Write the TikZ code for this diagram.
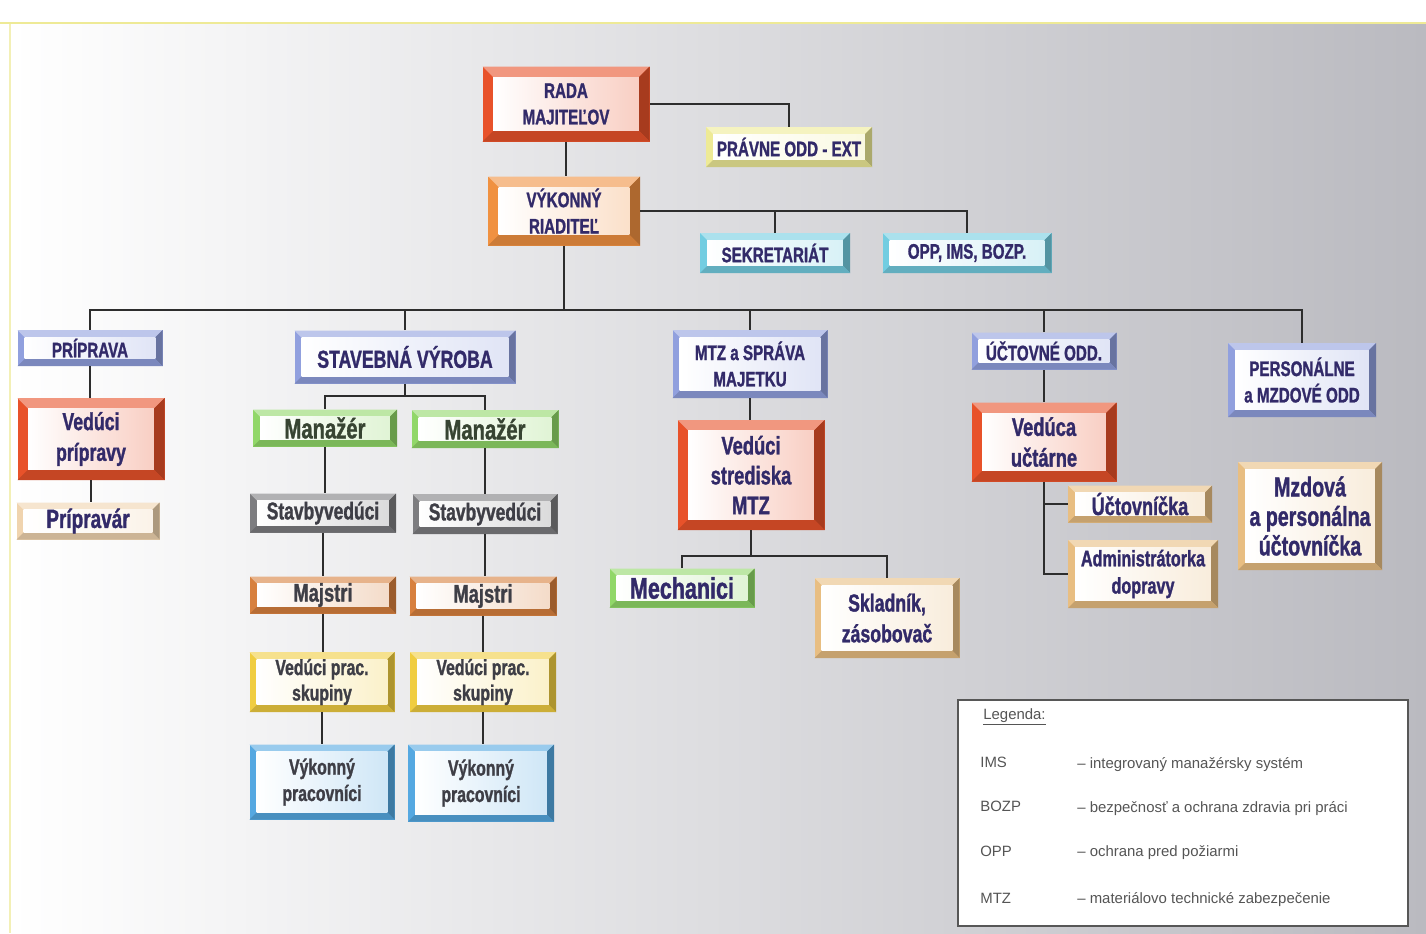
\documentclass[tikz,border=0pt]{standalone}
\usepackage{fontspec}
\setmainfont{Liberation Sans}
\newfontfamily\boxfont[FakeStretch=0.72, FakeBold=1.2, UprightFont={* Bold}, BoldFont={* Bold}]{Liberation Sans}
\definecolor{cRed}{RGB}{232,82,42}
\definecolor{cOrange}{RGB}{240,145,65}
\definecolor{cYel}{RGB}{238,234,150}
\definecolor{cCyan}{RGB}{115,205,225}
\definecolor{cBlue}{RGB}{145,160,222}
\definecolor{cGreen}{RGB}{145,215,105}
\definecolor{cGrey}{RGB}{125,125,128}
\definecolor{cBrown}{RGB}{215,128,62}
\definecolor{cGold}{RGB}{240,205,65}
\definecolor{cSky}{RGB}{85,168,225}
\definecolor{cPeach}{RGB}{232,190,130}
\definecolor{cPeachL}{RGB}{240,212,175}
\definecolor{txtA}{RGB}{50,42,105}
\definecolor{txtB}{RGB}{62,62,70}
\definecolor{txtG}{RGB}{55,68,50}
\definecolor{lineC}{RGB}{45,45,45}
\definecolor{legT}{RGB}{85,85,85}
\def\bw{4pt}
\tikzset{
  sz/.style 2 args={minimum width=#1*0.02cm, minimum height=#2*0.02cm},
  fs/.style 2 args={font=\boxfont\fontsize{#1}{#2}\selectfont},
  thickframe/.code={\def\bw{6pt}},
  box/.style={rectangle, inner sep=0pt, align=center, fill=#1, text=txtA,
    font=\boxfont\fontsize{12}{15}\selectfont,
    path picture={
      \fill[#1!60!white] (path picture bounding box.north west) -- (path picture bounding box.north east)
        -- ([shift={(-\bw,-\bw)}]path picture bounding box.north east) -- ([shift={(\bw,-\bw)}]path picture bounding box.north west) -- cycle;
      \fill[#1!72!black] (path picture bounding box.north east) -- (path picture bounding box.south east)
        -- ([shift={(-\bw,\bw)}]path picture bounding box.south east) -- ([shift={(-\bw,-\bw)}]path picture bounding box.north east) -- cycle;
      \fill[#1!85!black] (path picture bounding box.south west) -- (path picture bounding box.south east)
        -- ([shift={(-\bw,\bw)}]path picture bounding box.south east) -- ([shift={(\bw,\bw)}]path picture bounding box.south west) -- cycle;
      \shade[left color=white, right color=#1!28] ([shift={(\bw,\bw)}]path picture bounding box.south west) rectangle ([shift={(-\bw,-\bw)}]path picture bounding box.north east);
    }},
  conn/.style={draw=lineC, line width=1.1pt},
  legtext/.style={anchor=west, text=legT, font=\fontsize{8.5}{10}\selectfont, inner sep=0pt}
}
\begin{document}
\begin{tikzpicture}[x=0.02cm, y=-0.02cm]
\useasboundingbox (0,0) rectangle (1426,933);
\fill[white] (0,0) rectangle (1426,933);
\shade[left color=white, right color={rgb,255:red,186;green,186;blue,192}] (10,24) rectangle (1426,933);
\draw[cYel, line width=1.5pt] (0,23) -- (1426,23);
\draw[cYel!70!white, line width=1pt] (10,24) -- (10,933);

% top level
\node[box=cRed, thickframe, sz={167}{75}] (rada) at (566,104) {RADA\\MAJITEĽOV};
\node[box=cYel, sz={166}{40}] (pravne) at (789,147) {PRÁVNE ODD - EXT};
\node[box=cOrange, thickframe, sz={152}{69}] (vr) at (564,211) {VÝKONNÝ\\RIADITEĽ};
\node[box=cCyan, sz={150}{40}] (sekr) at (775,253) {SEKRETARIÁT};
\node[box=cCyan, sz={169}{40}] (opp) at (967,253) {OPP, IMS, BOZP.};

% departments
\node[box=cBlue, sz={145}{36}] (prip) at (90,348) {PRÍPRAVA};
\node[box=cBlue, sz={221}{53}, fs={14}{17}] (stav) at (405,357) {STAVEBNÁ VÝROBA};
\node[box=cBlue, sz={155}{68}] (mtz) at (750,364) {MTZ a SPRÁVA\\MAJETKU};
\node[box=cBlue, sz={145}{37}] (uct) at (1044,351) {ÚČTOVNÉ ODD.};
\node[box=cBlue, sz={148}{74}] (pers) at (1302,380) {PERSONÁLNE\\a MZDOVÉ ODD};

% Priprava
\node[box=cRed, thickframe, sz={147}{82}, fs={14}{17.5}] (vprip) at (91,439) {Vedúci\\prípravy};
\node[box=cPeachL, sz={143}{37}, fs={15}{18}] (pripr) at (88,521) {Prípravár};

% Stavebna vyroba
\node[box=cGreen, sz={144}{37}, fs={16}{19}, text=txtG] (man1) at (325,428) {Manažér};
\node[box=cGreen, sz={147}{38}, fs={16}{19}, text=txtG] (man2) at (485,429) {Manažér};
\node[box=cGrey, sz={146}{39}, fs={13.8}{17}, text=txtB] (sv1) at (323,513) {Stavbyvedúci};
\node[box=cGrey, sz={145}{40}, fs={13.8}{17}, text=txtB] (sv2) at (485,514) {Stavbyvedúci};
\node[box=cBrown, sz={146}{37}, fs={14.5}{17}, text=txtB] (maj1) at (323,595) {Majstri};
\node[box=cBrown, sz={147}{39}, fs={14.5}{17}, text=txtB] (maj2) at (483,596) {Majstri};
\node[box=cGold, sz={145}{60}, fs={12.5}{14.5}, text=txtB] (vps1) at (322,682) {Vedúci prac.\\skupiny};
\node[box=cGold, sz={146}{60}, fs={12.5}{14.5}, text=txtB] (vps2) at (483,682) {Vedúci prac.\\skupiny};
\node[box=cSky, sz={145}{75}, fs={12.5}{15}, text=txtB] (vp1) at (322,782) {Výkonný\\pracovníci};
\node[box=cSky, sz={146}{77}, fs={12.5}{15}, text=txtB] (vp2) at (481,783) {Výkonný\\pracovníci};

% MTZ
\node[box=cRed, thickframe, sz={147}{110}, fs={14.5}{17}] (vmtz) at (751,475) {Vedúci\\strediska\\MTZ};
\node[box=cGreen, sz={145}{39}, fs={17}{20}] (mech) at (682,588) {Mechanici};
\node[box=cPeach, sz={145}{80}, fs={14}{17.5}] (skl) at (887,618) {Skladník,\\zásobovač};

% Uctovne
\node[box=cRed, thickframe, sz={145}{79}, fs={14.5}{17.5}] (vuct) at (1044,442) {Vedúca\\učtárne};
\node[box=cPeach, sz={144}{37}, fs={14.3}{17}] (uctk) at (1140,504) {Účtovníčka};
\node[box=cPeach, sz={150}{68}, fs={12.8}{15.5}] (adm) at (1143,574) {Administrátorka\\dopravy};

% Personalne
\node[box=cPeach, sz={144}{108}, fs={15.5}{16.8}] (mzd) at (1310,516) {Mzdová\\a personálna\\účtovníčka};

% coordinates
\coordinate (bus) at (564,310);
\coordinate (sbus) at (405,396);
\coordinate (mbus) at (751,556);

% connectors
\draw[conn] (rada.east) -| (pravne.north);
\draw[conn] (rada.south) -- (rada.south |- vr.north);
\draw[conn] (vr.east) -| (opp.north);
\draw[conn] (sekr.north) -- (sekr.north |- vr.east);
\draw[conn] (vr.south) -- (vr.south |- bus);
\draw[conn] (prip.north) -- (prip.north |- bus) -- (pers.north |- bus) -- (pers.north);
\draw[conn] (stav.north) -- (stav.north |- bus);
\draw[conn] (mtz.north) -- (mtz.north |- bus);
\draw[conn] (uct.north) -- (uct.north |- bus);

\draw[conn] (prip.south) -- (prip.south |- vprip.north);
\draw[conn, line width=0.6pt] (vprip.south) -- (vprip.south |- pripr.north);

\draw[conn] (stav.south) -- (sbus);
\draw[conn] (man1.north) -- (man1.north |- sbus) -- (man2.north |- sbus) -- (man2.north);
\draw[conn] (man1.south) -- (man1.south |- sv1.north);
\draw[conn] (sv1.south) -- (sv1.south |- maj1.north);
\draw[conn] (maj1.south) -- (maj1.south |- vps1.north);
\draw[conn] (vps1.south) -- (vps1.south |- vp1.north);
\draw[conn] (man2.south) -- (man2.south |- sv2.north);
\draw[conn] (sv2.south) -- (sv2.south |- maj2.north);
\draw[conn] (maj2.south) -- (maj2.south |- vps2.north);
\draw[conn] (vps2.south) -- (vps2.south |- vp2.north);

\draw[conn, line width=0.6pt] (mtz.south) -- (mtz.south |- vmtz.north);
\draw[conn] (vmtz.south) -- (mbus);
\draw[conn] (mech.north) -- (mech.north |- mbus) -- (skl.north |- mbus) -- (skl.north);

\draw[conn, line width=0.6pt] (uct.south) -- (uct.south |- vuct.north);
\draw[conn] (vuct.south) |- (adm.west);
\draw[conn] (vuct.south |- uctk.west) -- (uctk.west);

% legend
\node[draw=lineC!80, line width=1.1pt, fill=white, sz={450}{226}, inner sep=0pt] (leg) at (1183,813) {};
\node[legtext] (legh) at (983,717) {\underline{Legenda:}};
\node[legtext] (l1a) at (980,762) {IMS};
\node[legtext] (l1b) at (1077,765) {– integrovaný manažérsky systém};
\node[legtext] (l2a) at (980,806) {BOZP};
\node[legtext] (l2b) at (1077,809) {– bezpečnosť a ochrana zdravia pri práci};
\node[legtext] (l3a) at (980,851) {OPP};
\node[legtext] (l3b) at (1077,853) {– ochrana pred požiarmi};
\node[legtext] (l4a) at (980,898) {MTZ};
\node[legtext] (l4b) at (1077,900) {– materiálovo technické zabezpečenie};
\end{tikzpicture}
\end{document}
